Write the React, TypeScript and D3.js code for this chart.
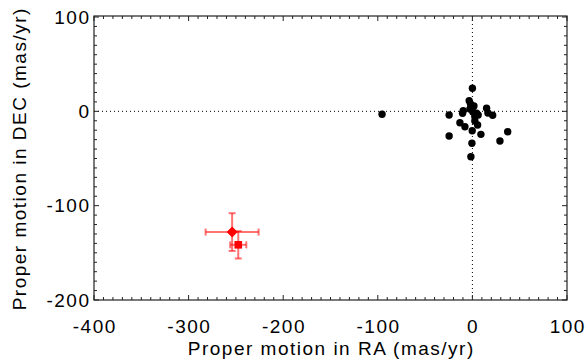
import React from "react";
import * as d3 from "d3";

// Black points: proper motions (mas/yr)
const pmRA: number[] = [0, -3.4, -2, -9.7, -10.4, -24.6, 0.5, 4.4, 2.6, 6.1, -2.6, 1.6, 15, 21.4, 16.4, -13.2, -7.9, 5.5, 2.6, -0.2, 9, -24.6, 37.3, 29.1, -0.5, -1.6, -95.5];
const pmDEC: number[] = [24.4, 11.2, 7.7, 0.6, -2.1, -3.9, -0.7, -2.1, -5.7, -3.9, 2.4, 5.6, 3.2, -4.2, -1.8, -12.1, -16.3, -14.5, -10.3, -20.6, -24.4, -26.2, -21.6, -31.5, -33.9, -48.1, -3.1];

// Red objects with error bars
const redRA: number[] = [-254, -247.5];
const redDEC: number[] = [-128, -141.5];
const redErrRA: number[] = [28, 8.5];
const redErrDEC: number[] = [20, 14.5];
const redShape: string[] = ["diamond", "square"];

const xTicks: number[] = [-400, -300, -200, -100, 0, 100];
const yTicks: number[] = [-200, -100, 0, 100];

const W = 587;
const H = 362;
const L = 94, R = 567, T = 16, B = 300;
const FONT = "'Liberation Sans', Arial, Helvetica, sans-serif";
const LS = 1.5;

export default function App() {
  const x = d3.scaleLinear().domain([-400, 100]).range([L, R]);
  const y = d3.scaleLinear().domain([-200, 100]).range([B, T + 1]);
  const xMinor = d3.range(-400, 100.1, 10);
  const yMinor = d3.range(-200, 100.1, 10);
  const isMajor = (v: number) => Math.abs(v % 100) < 1e-6;
  const ax = "#222";
  const red = "#ff0000";
  const errCol = "rgba(255,0,0,0.55)";
  const cap = 3.5;

  return (
    <svg width={W} height={H} style={{ position: "absolute", left: 0, top: 0, background: "#fff" }}>
      <rect x={0} y={0} width={W} height={H} fill="#fff" />
      {/* zero lines */}
      <line x1={L} x2={R} y1={y(0)} y2={y(0)} stroke="#000" strokeWidth={1} strokeDasharray="1,3" />
      <line x1={x(0)} x2={x(0)} y1={T} y2={B} stroke="#000" strokeWidth={1} strokeDasharray="1,3" />

      {/* black points */}
      {pmRA.map((v, i) => (
        <circle key={"p" + i} cx={x(v)} cy={y(pmDEC[i])} r={3.7} fill="#000" />
      ))}

      {/* red points with error bars */}
      {redRA.map((v, i) => {
        const cx = x(v), cy = y(redDEC[i]);
        const x0 = x(v - redErrRA[i]), x1 = x(v + redErrRA[i]);
        const y0 = y(redDEC[i] - redErrDEC[i]), y1 = y(redDEC[i] + redErrDEC[i]);
        return (
          <g key={"r" + i}>
            <g stroke={errCol} strokeWidth={2}>
              <line x1={x0} x2={x1} y1={cy} y2={cy} />
              <line x1={x0} x2={x0} y1={cy - cap} y2={cy + cap} />
              <line x1={x1} x2={x1} y1={cy - cap} y2={cy + cap} />
              <line x1={cx} x2={cx} y1={y0} y2={y1} />
              <line x1={cx - cap} x2={cx + cap} y1={y0} y2={y0} />
              <line x1={cx - cap} x2={cx + cap} y1={y1} y2={y1} />
            </g>
            {redShape[i] === "diamond" ? (
              <path d={`M${cx},${cy - 5.5}L${cx + 5.5},${cy}L${cx},${cy + 5.5}L${cx - 5.5},${cy}Z`} fill={red} />
            ) : (
              <rect x={cx - 3.8} y={cy - 3.8} width={7.6} height={7.6} fill={red} />
            )}
          </g>
        );
      })}

      {/* frame */}
      <rect x={L} y={T} width={R - L} height={B - T} fill="none" stroke={ax} strokeWidth={1.2} />

      {/* ticks */}
      {xMinor.map((v) => {
        const len = isMajor(v) ? 5 : 3;
        return (
          <g key={"xt" + v} stroke={ax} strokeWidth={1}>
            <line x1={x(v)} x2={x(v)} y1={B} y2={B - len} />
            <line x1={x(v)} x2={x(v)} y1={T} y2={T + len} />
          </g>
        );
      })}
      {yMinor.map((v) => {
        const len = isMajor(v) ? 5 : 3;
        return (
          <g key={"yt" + v} stroke={ax} strokeWidth={1}>
            <line x1={L} x2={L + len} y1={y(v)} y2={y(v)} />
            <line x1={R} x2={R - len} y1={y(v)} y2={y(v)} />
          </g>
        );
      })}

      {/* tick labels */}
      {xTicks.map((v) => (
        <text key={"xl" + v} x={x(v) + LS / 2} y={333} textAnchor="middle" fontFamily={FONT} fontSize={19} letterSpacing={LS} fill="#000">
          {String(v)}
        </text>
      ))}
      {yTicks.map((v) => (
        <text key={"yl" + v} x={89 + LS} y={y(v) + 6.8} textAnchor="end" fontFamily={FONT} fontSize={19} letterSpacing={LS} fill="#000">
          {String(v)}
        </text>
      ))}

      {/* axis titles */}
      <text x={(L + R) / 2 + LS / 2} y={355} textAnchor="middle" fontFamily={FONT} fontSize={19} letterSpacing={LS} fill="#000">
        Proper motion in RA (mas/yr)
      </text>
      <text transform={`translate(26,${(T + B) / 2 + LS / 2}) rotate(-90)`} textAnchor="middle" fontFamily={FONT} fontSize={19} letterSpacing={LS} fill="#000">
        Proper motion in DEC (mas/yr)
      </text>
    </svg>
  );
}
